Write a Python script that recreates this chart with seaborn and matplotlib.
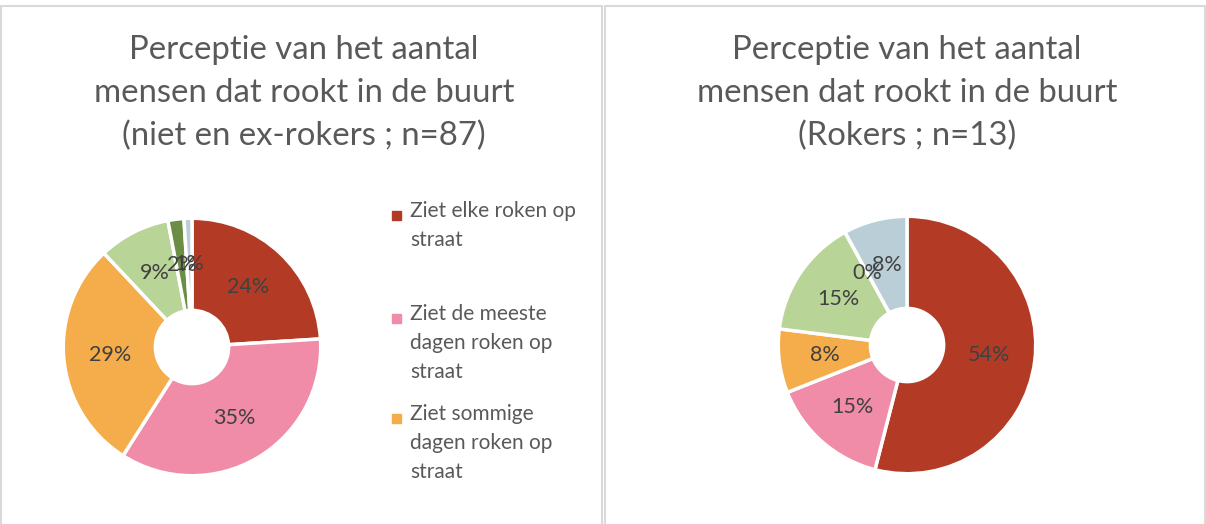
import matplotlib
matplotlib.use("Agg")
import matplotlib.pyplot as plt
import matplotlib.patches as mpatches
import seaborn as sns

# data
categories = ["Ziet elke roken op straat",
              "Ziet de meeste dagen roken op straat",
              "Ziet sommige dagen roken op straat",
              "Ziet zelden roken op straat",
              "Ziet nooit roken op straat",
              "Weet niet"]
legend_labels = ["Ziet elke roken op\nstraat",
                 "Ziet de meeste\ndagen roken op\nstraat",
                 "Ziet sommige\ndagen roken op\nstraat"]
niet_rokers_pct = [24, 35, 29, 9, 2, 1]
rokers_pct = [54, 15, 8, 15, 0, 8]
title_left = "Perceptie van het aantal\nmensen dat rookt in de buurt\n(niet en ex-rokers ; n=87)"
title_right = "Perceptie van het aantal\nmensen dat rookt in de buurt\n(Rokers ; n=13)"

colors = ["#B33B26", "#F08BA8", "#F5AC4A", "#B8D497", "#6B8E44", "#B9CED7"]

sns.set_theme(style="white")
plt.rcParams['font.family'] = ['Lato', 'DejaVu Sans']

W, H = 1206, 524
fig = plt.figure(figsize=(W / 100, H / 100), dpi=100)

# panel borders
for x0, x1 in [(1, 602), (605, 1205)]:
    fig.patches.append(mpatches.Rectangle((x0 / W, -0.1), (x1 - x0) / W, (H - 6) / H + 0.1,
                                          transform=fig.transFigure, fill=False,
                                          edgecolor="#D9D9D9", linewidth=1.5))

R = 130
inner = 37
ring = (R - inner) / R


def donut(cx, cy, values):
    ax = fig.add_axes([(cx - R) / W, (H - cy - R) / H, 2 * R / W, 2 * R / H])
    wedges, texts, autotexts = ax.pie(values, colors=colors, startangle=90, counterclock=False,
                                      autopct='%.0f%%', pctdistance=1 - ring / 2,
                                      wedgeprops=dict(width=ring, edgecolor="white", linewidth=2.5),
                                      textprops=dict(color="#404040", fontsize=15.5))
    ax.set_xlim(-1.01, 1.01)
    ax.set_ylim(-1.01, 1.01)
    ax.set_aspect("equal")
    return ax


donut(192, 347, niet_rokers_pct)
donut(907, 345, rokers_pct)

fig.text(304 / W, 1 - 93 / H, title_left, ha="center", va="center", fontsize=23.7,
         color="#595959", linespacing=1.52)
fig.text(907 / W, 1 - 93 / H, title_right, ha="center", va="center", fontsize=23.7,
         color="#595959", linespacing=1.52)

# legend (only the first three entries fit in the panel)
legend_y = [215, 318, 418]
for lab, col, y in zip(legend_labels, colors, legend_y):
    fig.patches.append(mpatches.Rectangle((392 / W, 1 - (y + 5) / H), 9 / W, 9 / H,
                                          transform=fig.transFigure, color=col))
    fig.text(410 / W, 1 - (y - 14) / H, lab, ha="left", va="top", fontsize=15,
             color="#595959", linespacing=1.55)

fig.savefig("out.png", dpi=100)
